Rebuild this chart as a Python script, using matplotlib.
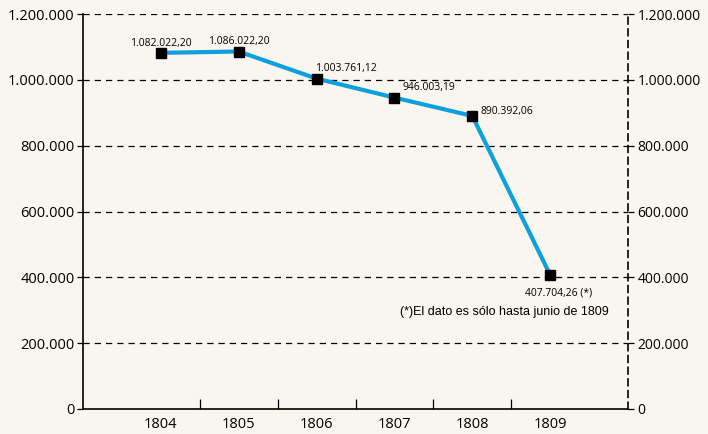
import matplotlib.pyplot as plt
from matplotlib.ticker import FixedLocator

# data
years = [1804, 1805, 1806, 1807, 1808, 1809]
values = [1082022.20, 1086022.20, 1003761.12, 946003.19, 890392.06, 407704.26]
labels = ['1.082.022,20', '1.086.022,20', '1.003.761,12', '946.003,19', '890.392,06', '407.704,26 (*)']
yticks = [0, 200000, 400000, 600000, 800000, 1000000, 1200000]
ytick_labels = ['0', '200.000', '400.000', '600.000', '800.000', '1.000.000', '1.200.000']
note = '(*)El dato es sólo hasta junio de 1809'

bg = '#f9f6ef'
plt.rcParams['font.family'] = ['Open Sans', 'DejaVu Sans']

fig = plt.figure(figsize=(7.08, 4.34), dpi=100, facecolor=bg)
ax = fig.add_axes([83 / 708, 25 / 434, 545 / 708, 395 / 434], facecolor=bg)

ax.plot(years, values, color='#0ea0dc', lw=3, zorder=3)
ax.plot(years, values, 's', color='black', ms=7.5, zorder=4)

ax.set_xlim(1803, 1810)
ax.set_ylim(0, 1200000)

# grid lines
for y in yticks[1:]:
    ax.axhline(y, color='black', ls=(0, (5, 4)), lw=0.9, zorder=1)

ax.set_yticks(yticks)
ax.set_yticklabels(ytick_labels, fontsize=10.5)
ax.tick_params(axis='y', length=4, width=0.9, pad=2)
ax.set_xticks(years)
ax.set_xticklabels([str(y) for y in years], fontsize=10.5)
ax.tick_params(axis='x', which='major', length=0, pad=6)
ax.xaxis.set_minor_locator(FixedLocator([y + 0.5 for y in years[:-1]]))
ax.tick_params(axis='x', which='minor', direction='in', length=7, width=0.9)

ax.spines['top'].set_visible(False)
ax.spines['right'].set_linestyle((0, (4, 3)))
ax.spines['right'].set_linewidth(1.2)
ax.spines['left'].set_linewidth(1.2)
ax.spines['bottom'].set_linewidth(1.2)

ax2 = ax.twinx()
ax2.set_ylim(0, 1200000)
ax2.set_yticks(yticks)
ax2.set_yticklabels(ytick_labels, fontsize=10)
ax2.tick_params(axis='y', length=4, width=0.9, pad=3)
for s in ax2.spines.values():
    s.set_visible(False)

# value labels: (dx, dy) in points, alignment
offsets = [(0, 3, 'center', 'bottom'), (0, 3, 'center', 'bottom'), (-1, 3, 'left', 'bottom'),
           (6, 7, 'left', 'center'), (6, 3, 'left', 'center'), (6, -13, 'center', 'center')]
for x, y, t, (dx, dy, ha, va) in zip(years, values, labels, offsets):
    ax.annotate(t, (x, y), xytext=(dx, dy), textcoords='offset points',
                ha=ha, va=va, fontsize=7.5, zorder=5)

ax.text(1809.75, 295000, note, ha='right', va='center', fontsize=9,
        family=['Liberation Sans', 'DejaVu Sans'])

fig.savefig('out.png', dpi=100, facecolor=bg)
